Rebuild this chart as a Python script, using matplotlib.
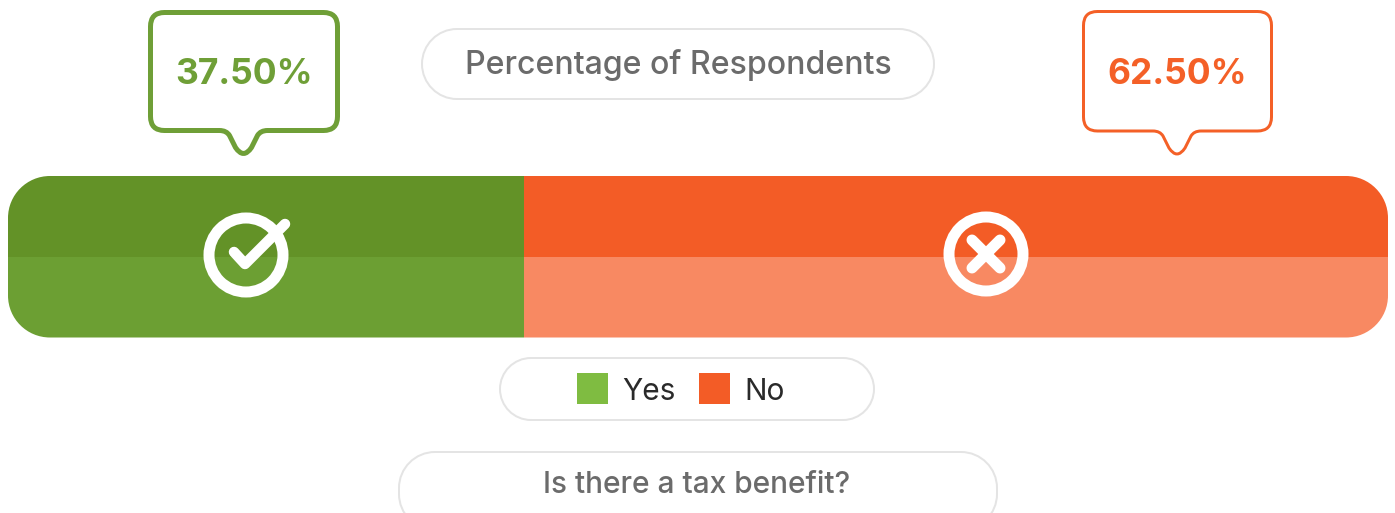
import matplotlib
matplotlib.use("Agg")
import matplotlib.pyplot as plt
from matplotlib.patches import PathPatch, Circle, Rectangle
from matplotlib.path import Path

# Survey result
question = "Is there a tax benefit?"
value_title = "Percentage of Respondents"
answers = ["Yes", "No"]
percentages = [37.5, 62.5]

# top half, bottom half, callout and legend colours per answer
top_colors = ["#639227", "#f35c26"]
bottom_colors = ["#6c9f33", "#f88962"]
callout_colors = ["#6f9f37", "#f46027"]
legend_colors = ["#7fbc41", "#f35c26"]

FONT = "Inter"
PX = 0.72  # pixels to points at dpi 100
KAPPA = 0.5523


def round_rect(x0, y0, x1, y1, r):
    # rounded rectangle path with proper circular corners
    k = r * (1 - KAPPA)
    verts = [
        (x0 + r, y0), (x1 - r, y0),
        (x1 - k, y0), (x1, y0 + k), (x1, y0 + r), (x1, y1 - r),
        (x1, y1 - k), (x1 - k, y1), (x1 - r, y1), (x0 + r, y1),
        (x0 + k, y1), (x0, y1 - k), (x0, y1 - r), (x0, y0 + r),
        (x0, y0 + k), (x0 + k, y0), (x0 + r, y0), (x0 + r, y0),
    ]
    codes = [Path.MOVETO, Path.LINETO]
    for _ in range(3):
        codes += [Path.CURVE4] * 3 + [Path.LINETO]
    codes += [Path.CURVE4] * 3 + [Path.CLOSEPOLY]
    return Path(verts, codes)


def pill(ax, x0, y0, x1, y1, radius, lw=2):
    ax.add_patch(PathPatch(round_rect(x0, y0, x1, y1, radius), facecolor="white",
                           edgecolor="#e4e4e4", linewidth=lw * PX))


def callout(ax, x0, y0, x1, y1, tip_x, tip_y, color, lw):
    # speech bubble with rounded corners and a soft pointer at the bottom
    r = 14
    hw = 24
    verts = [
        (x0 + r, y0), (x1 - r, y0),
        (x1, y0), (x1, y0 + r), (x1, y1 - r),
        (x1, y1), (x1 - r, y1), (tip_x + hw, y1),
        (tip_x + hw - 7, y1), (tip_x + hw - 10, y1 + 5), (tip_x + 8, tip_y - 6),
        (tip_x, tip_y + 6), (tip_x - 8, tip_y - 6),
        (tip_x - hw + 10, y1 + 5), (tip_x - hw + 7, y1), (tip_x - hw, y1),
        (x0 + r, y1),
        (x0, y1), (x0, y1 - r), (x0, y0 + r),
        (x0, y0), (x0 + r, y0), (x0 + r, y0),
    ]
    codes = [
        Path.MOVETO, Path.LINETO,
        Path.CURVE3, Path.CURVE3, Path.LINETO,
        Path.CURVE3, Path.CURVE3, Path.LINETO,
        Path.CURVE3, Path.CURVE3, Path.LINETO,
        Path.CURVE3, Path.CURVE3,
        Path.LINETO, Path.CURVE3, Path.CURVE3,
        Path.LINETO,
        Path.CURVE3, Path.CURVE3, Path.LINETO,
        Path.CURVE3, Path.CURVE3, Path.CLOSEPOLY,
    ]
    ax.add_patch(PathPatch(Path(verts, codes), facecolor="white", edgecolor=color,
                           linewidth=lw * PX, joinstyle="round"))


W, H = 1395, 513
fig = plt.figure(figsize=(W / 100, H / 100), dpi=100, facecolor="white")

# full-size layer in pixel coordinates for the furniture around the bar
canvas = fig.add_axes([0, 0, 1, 1])
canvas.set_xlim(0, W)
canvas.set_ylim(H, 0)
canvas.axis("off")

# percentage axis, the track below rounds it off
bar_left, bar_right, bar_top, bar_bottom = 5, 1388, 176, 337.5
bar_ax = fig.add_axes([bar_left / W, 1 - bar_bottom / H,
                       (bar_right - bar_left) / W, (bar_bottom - bar_top) / H])
bar_ax.set_xlim(0, 100)
bar_ax.set_ylim(1, 0)
bar_ax.axis("off")

track = PathPatch(round_rect(8, bar_top, 1388, bar_bottom, 42), facecolor="none",
                  edgecolor="none", transform=canvas.transData)
canvas.add_patch(track)

start = 0
for value, top, bottom in zip(percentages, top_colors, bottom_colors):
    for y, color in ((0.25, top), (0.75, bottom)):
        bars = bar_ax.barh(y, value, height=0.5, left=start, color=color, linewidth=0)
        bars[0].set_clip_path(track)
    start += value

# answer icons on top of the bar
icons = fig.add_axes([0, 0, 1, 1])
icons.set_xlim(0, W)
icons.set_ylim(H, 0)
icons.axis("off")
icons.patch.set_alpha(0)

icons.add_patch(Circle((246, 255), 37, facecolor="none", edgecolor="white", linewidth=11 * PX))
icons.plot([234, 245, 285], [252, 264, 224], color="white", lw=10.5 * PX,
           solid_capstyle="round", solid_joinstyle="round")
icons.add_patch(Circle((986, 254), 37, facecolor="none", edgecolor="white", linewidth=11 * PX))
icons.plot([972, 1000], [240, 268], color="white", lw=11 * PX, solid_capstyle="round")
icons.plot([972, 1000], [268, 240], color="white", lw=11 * PX, solid_capstyle="round")

# value callouts
callout(canvas, 150.5, 12.5, 337.5, 130.5, 243.5, 153.5, callout_colors[0], 5)
callout(canvas, 1083.5, 11.5, 1271.5, 131, 1177, 154, callout_colors[1], 3)
for x, value, color in zip((244, 1177), percentages, callout_colors):
    canvas.text(x, 74, f"{value:.2f}%", color=color, fontsize=25.5, family=FONT,
                fontweight="bold", ha="center", va="center")

# title, legend and question boxes
pill(canvas, 422, 29, 934, 99, 35)
canvas.text(678, 65, value_title, color="#6b6b6b", fontsize=23.1, family=FONT,
            fontweight="medium", ha="center", va="center")

pill(canvas, 500, 358, 874, 420, 31)
for x, tx, name, color in zip((577, 699), (622, 744), answers, legend_colors):
    canvas.add_patch(Rectangle((x, 373), 31, 31, facecolor=color, edgecolor="none"))
    canvas.text(tx, 392, name, color="#2a2a2a", fontsize=21.5, family=FONT,
                ha="left", va="center")

pill(canvas, 399, 452, 997, 530, 36)
canvas.text(697, 485, question, color="#6b6b6b", fontsize=21.5, family=FONT,
            fontweight="medium", ha="center", va="center")

fig.savefig("out.png", dpi=100, facecolor="white")
